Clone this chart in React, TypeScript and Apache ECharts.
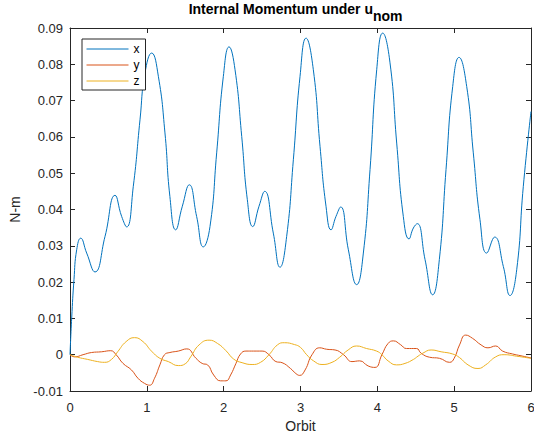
import React, { useEffect, useRef } from "react";
import * as echarts from "echarts";

// Orbit positions and values for the x component
const xOrbit = [0, 0.022, 0.052, 0.087, 0.139, 0.217, 0.325, 0.456, 0.586, 0.672, 0.738, 0.824, 0.911, 0.976, 1.063, 1.15, 1.236, 1.3, 1.375, 1.462, 1.553, 1.648, 1.735, 1.822, 1.909, 1.996, 2.07, 2.148, 2.235, 2.308, 2.378, 2.46, 2.534, 2.646, 2.733, 2.82, 2.907, 2.994, 3.072, 3.167, 3.254, 3.332, 3.397, 3.462, 3.523, 3.623, 3.731, 3.818, 3.905, 3.992, 4.07, 4.165, 4.252, 4.338, 4.412, 4.469, 4.52, 4.621, 4.72, 4.807, 4.894, 4.981, 5.063, 5.163, 5.249, 5.336, 5.423, 5.527, 5.64, 5.727, 5.814, 5.9, 6.0];
const xValues = [0, 0.0101, 0.0207, 0.0289, 0.0321, 0.028, 0.0228, 0.0326, 0.0439, 0.0381, 0.0352, 0.0464, 0.0647, 0.0776, 0.0831, 0.0767, 0.0611, 0.0436, 0.0344, 0.0409, 0.0468, 0.0381, 0.0297, 0.0353, 0.0556, 0.0767, 0.0848, 0.0785, 0.0601, 0.0427, 0.0353, 0.0409, 0.045, 0.0335, 0.0241, 0.0326, 0.0537, 0.0767, 0.0872, 0.0785, 0.0574, 0.0409, 0.0344, 0.0381, 0.0407, 0.0289, 0.0193, 0.028, 0.051, 0.0785, 0.0886, 0.0804, 0.0583, 0.0381, 0.0319, 0.0349, 0.0361, 0.0262, 0.0165, 0.0262, 0.051, 0.0739, 0.0819, 0.0739, 0.0556, 0.0372, 0.028, 0.0324, 0.0243, 0.0163, 0.0234, 0.0464, 0.067];

// y component
const yOrbit = [0, 0.06, 0.17, 0.28, 0.41, 0.53, 0.6, 0.69, 0.8, 0.885, 0.97, 1.037, 1.1, 1.17, 1.23, 1.3, 1.41, 1.52, 1.64, 1.72, 1.79, 1.87, 1.96, 2.03, 2.09, 2.16, 2.22, 2.29, 2.39, 2.5, 2.59, 2.68, 2.76, 2.87, 2.94, 2.99, 3.06, 3.15, 3.25, 3.34, 3.45, 3.56, 3.67, 3.77, 3.88, 3.97, 4.06, 4.14, 4.21, 4.3, 4.38, 4.51, 4.57, 4.68, 4.81, 4.94, 5.0, 5.07, 5.15, 5.24, 5.35, 5.44, 5.54, 5.63, 5.76, 5.87, 6.0];
const yValues = [0, -0.0006, 0, 0.0006, 0.0008, 0.0011, 0, -0.0024, -0.0042, -0.0065, -0.0079, -0.0084, -0.0065, -0.0028, 0, 0.0006, 0.001, 0.0016, -0.001, -0.0024, -0.0028, -0.0056, -0.0072, -0.0072, -0.0056, -0.0024, 0.0002, 0.001, 0.001, 0.001, 0, -0.0019, -0.0022, -0.0038, -0.0052, -0.0057, -0.0042, 0, 0.0019, 0.0015, 0.0013, 0, -0.0019, -0.0017, -0.0031, -0.0035, 0, 0.0031, 0.0038, 0.0028, 0.0017, 0.0017, 0.0004, -0.0007, -0.001, -0.0021, -0.001, 0.0027, 0.0054, 0.0045, 0.0027, 0.0019, 0.0024, 0.001, 0.0002, -0.0003, -0.0009];

// z component
const zOrbit = [0, 0.1, 0.23, 0.36, 0.45, 0.54, 0.62, 0.73, 0.84, 0.95, 1.06, 1.17, 1.28, 1.41, 1.5, 1.57, 1.68, 1.81, 1.92, 2.03, 2.13, 2.24, 2.37, 2.48, 2.59, 2.7, 2.79, 2.92, 3.0, 3.08, 3.17, 3.28, 3.41, 3.51, 3.62, 3.73, 3.86, 3.99, 4.06, 4.14, 4.25, 4.36, 4.47, 4.53, 4.59, 4.7, 4.83, 4.98, 5.07, 5.18, 5.31, 5.41, 5.54, 5.65, 5.81, 6.0];
const zValues = [0, -0.0007, -0.0013, -0.0019, -0.0021, -0.0013, 0.0008, 0.0036, 0.0047, 0.0036, 0.001, -0.001, -0.0019, -0.003, -0.0025, -0.0006, 0.0027, 0.004, 0.0031, 0.0011, -0.0012, -0.0022, -0.0027, -0.0021, 0, 0.0027, 0.0033, 0.0028, 0.002, 0, -0.0017, -0.0027, -0.0021, -0.0007, 0.0013, 0.0024, 0.0017, 0.001, 0, -0.0017, -0.0028, -0.0024, -0.0013, -0.0004, 0.0004, 0.0013, 0.0008, 0.0002, -0.0008, -0.0028, -0.0038, -0.0028, -0.0006, 0, -0.0004, -0.001];

const seriesNames = ["x", "y", "z"];
const seriesColors = ["#0072BD", "#D95319", "#EDB120"];
const xTicks = { min: 0, max: 6, interval: 1 };
const yTicks = { min: -0.01, max: 0.09, interval: 0.01 };

const FONT = "'Liberation Sans', Arial, Helvetica, sans-serif";
const AX = "#262626";

function zip(t: number[], v: number[]) {
  return t.map((ti, i) => [ti, v[i]]);
}

export default function App() {
  const ref = useRef<HTMLDivElement>(null);
  useEffect(() => {
    if (!ref.current) return;
    const chart = echarts.init(ref.current, undefined, { renderer: "svg" });
    const axisCommon = {
      axisLine: { show: true, onZero: false, lineStyle: { color: AX, width: 1 } },
      axisTick: { show: true, inside: true, length: 5, lineStyle: { color: AX, width: 1 } },
      splitLine: { show: false },
    };
    const yFmt = (v: number) => {
      const r = Math.round(v * 100) / 100;
      return r === 0 ? "0" : String(r);
    };
    const datas = [zip(xOrbit, xValues), zip(yOrbit, yValues), zip(zOrbit, zValues)];
    chart.setOption({
      animation: false,
      backgroundColor: "#ffffff",
      textStyle: { fontFamily: FONT },
      grid: { left: 70, right: 3, top: 28, bottom: 48, containLabel: false, outerBoundsMode: "none" },
      graphic: [
        {
          type: "text",
          x: 373,
          y: 9,
          style: {
            text: "Internal Momentum under u",
            fontSize: 14,
            fontWeight: "bold",
            fontFamily: FONT,
            fill: "#000",
            align: "right",
            verticalAlign: "middle",
          },
        },
        {
          type: "text",
          x: 373,
          y: 16,
          style: {
            text: "nom",
            fontSize: 14,
            fontWeight: "bold",
            fontFamily: FONT,
            fill: "#000",
            align: "left",
            verticalAlign: "middle",
          },
        },
      ],
      legend: {
        data: seriesNames,
        orient: "vertical",
        left: 82,
        top: 39,
        itemWidth: 42,
        itemHeight: 14,
        itemGap: 4,
        padding: [4, 6, 3, 4],
        borderColor: AX,
        borderWidth: 1,
        backgroundColor: "#fff",
        itemStyle: { opacity: 0, borderWidth: 0 },
        lineStyle: { width: 1 },
        textStyle: { fontSize: 12, color: "#000", fontFamily: FONT },
      },
      xAxis: [
        {
          type: "value",
          position: "bottom",
          ...xTicks,
          ...axisCommon,
          axisLabel: { color: AX, fontSize: 13, margin: 10, fontFamily: FONT },
          name: "Orbit",
          nameLocation: "middle",
          nameGap: 27,
          nameTextStyle: { color: AX, fontSize: 14, fontFamily: FONT },
        },
        {
          type: "value",
          position: "top",
          ...xTicks,
          ...axisCommon,
          axisLabel: { show: false },
        },
      ],
      yAxis: [
        {
          type: "value",
          position: "left",
          ...yTicks,
          ...axisCommon,
          axisLabel: { color: AX, fontSize: 13, margin: 7, fontFamily: FONT, formatter: yFmt },
          name: "N-m",
          nameLocation: "middle",
          nameGap: 43,
          nameTextStyle: { color: AX, fontSize: 14, fontFamily: FONT },
        },
        {
          type: "value",
          position: "right",
          ...yTicks,
          ...axisCommon,
          axisLabel: { show: false },
        },
      ],
      series: seriesNames.map((name, i) => ({
        name,
        type: "line",
        xAxisIndex: 0,
        yAxisIndex: 0,
        data: datas[i],
        smooth: 0.5,
        symbol: "none",
        showSymbol: false,
        color: seriesColors[i],
        lineStyle: { color: seriesColors[i], width: 1 },
      })),
    });
    return () => chart.dispose();
  }, []);
  return (
    <div
      ref={ref}
      style={{ position: "fixed", left: 0, top: 0, width: 534, height: 439, background: "#fff" }}
    />
  );
}
